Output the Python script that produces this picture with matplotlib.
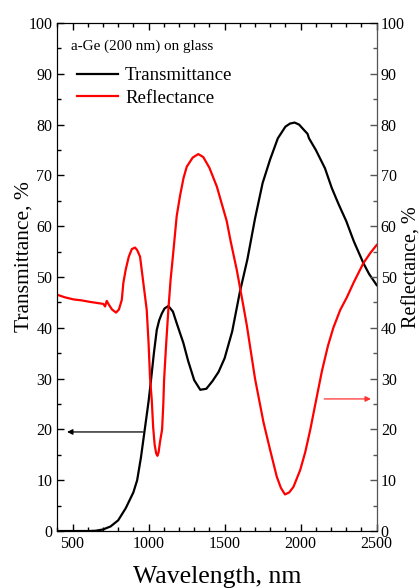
import matplotlib
matplotlib.use("Agg")
import matplotlib.pyplot as plt
from matplotlib.ticker import MultipleLocator
from matplotlib.lines import Line2D

plt.rcParams['font.family'] = ['Liberation Serif', 'DejaVu Serif']

# transmittance (black, left axis)
wl_T = [400, 500, 600, 650, 700, 750, 800, 850, 900, 925, 950, 975, 1000, 1016, 1035, 1054, 1070, 1087,
        1105, 1130, 1160, 1185, 1229, 1260, 1300, 1340, 1380, 1420, 1460, 1500, 1550, 1600, 1650, 1700,
        1750, 1800, 1850, 1900, 1930, 1960, 1990, 2020, 2045, 2055, 2100, 2160, 2205, 2250, 2300, 2350,
        2413, 2450, 2500]
T = [0, 0, 0, 0.05, 0.3, 0.9, 2.1, 4.5, 7.6, 10, 14.5, 20, 25.5, 29.7, 35, 39.6, 41.5, 42.8,
     43.8, 44.3, 43.2, 40.9, 37, 33.5, 29.7, 27.8, 28, 29.5, 31.3, 34, 39.3, 47, 53.5, 61.5,
     68.5, 73.2, 77.3, 79.6, 80.2, 80.4, 80, 79, 78.2, 77.3, 75, 71.4, 67.5, 64.3, 61, 57,
     52.7, 50.6, 48.4]

# reflectance (red, right axis)
wl_R = [400, 450, 505, 560, 615, 660, 703, 714, 725, 740, 760, 786, 805, 824, 834, 850, 870, 890, 911, 925,
        944, 965, 988, 1000, 1010, 1021, 1030, 1040, 1050, 1058, 1066, 1075, 1089, 1097, 1102, 1115, 1130,
        1145, 1163, 1185, 1207, 1230, 1251, 1290, 1327, 1360, 1400, 1449, 1514, 1540, 1580, 1624, 1646,
        1700, 1755, 1799, 1843, 1870, 1897, 1925, 1953, 1997, 2030, 2063, 2100, 2140, 2180, 2215, 2260,
        2304, 2350, 2412, 2460, 2500]
R = [46.5, 46, 45.6, 45.4, 45.1, 44.9, 44.7, 44.2, 45.3, 44.5, 43.6, 43, 43.6, 45.5, 48.8, 51.5, 54, 55.5, 55.8, 55.3,
     54, 49, 43.5, 37, 30, 25.8, 20.5, 17, 15.3, 14.8, 15.5, 17.5, 20, 25, 29.7, 36.5, 43.5,
     49.5, 55, 62, 66, 69.5, 71.7, 73.5, 74.2, 73.6, 71.5, 67.8, 61, 57, 51.4, 44.2, 40.5,
     30, 21.5, 16, 10.7, 8.5, 7.2, 7.6, 8.7, 12, 15.5, 19.9, 25.5, 31.5, 36.5, 40, 43.5,
     46, 49, 52.7, 54.8, 56.3]

fig = plt.figure(figsize=(4.19, 5.88), dpi=100)
ax = fig.add_axes([0.1368, 0.0969, 0.7622, 0.8640])
ax2 = ax.twinx()

ax.plot(wl_T, T, color='black', lw=1.6)
ax2.plot(wl_R, R, color='red', lw=1.6)

for a in (ax, ax2):
    a.set_xlim(400, 2500)
    a.set_ylim(0, 100)
    a.yaxis.set_major_locator(MultipleLocator(10))
    a.yaxis.set_minor_locator(MultipleLocator(5))
ax.xaxis.set_major_locator(MultipleLocator(500))
ax.xaxis.set_minor_locator(MultipleLocator(100))

ax.tick_params(which='both', direction='in', top=True, right=False, labelsize=11.5, width=1)
ax.tick_params(which='major', length=5)
ax.tick_params(which='minor', length=3)
ax2.tick_params(which='both', direction='in', labelsize=11.5, width=1, color='#555555', pad=3)
ax2.tick_params(which='major', length=5)
ax2.tick_params(which='minor', length=3)
ax2.spines['right'].set_color('#555555')

ax.set_xlabel('Wavelength, nm', fontsize=18.5, labelpad=10)
ax.set_ylabel('Transmittance, %', fontsize=15.5)
ax.yaxis.set_label_coords(-0.075, 0.54)
ax2.set_ylabel('Reflectance, %', fontsize=14.5)
ax2.yaxis.set_label_coords(1.08, 0.52)

ax.annotate('', xy=(464, 19.5), xytext=(964, 19.5),
            arrowprops=dict(arrowstyle='-|>', color='black', lw=0.9, mutation_scale=8,
                            shrinkA=0, shrinkB=0))
ax2.annotate('', xy=(2462, 26), xytext=(2155, 26),
             arrowprops=dict(arrowstyle='-|>', color='#ff3030', lw=0.9, mutation_scale=8,
                             shrinkA=0, shrinkB=0))

ax2.text(0.042, 0.955, 'a-Ge (200 nm) on glass', transform=ax.transAxes, fontsize=10.9, va='center')

handles = [Line2D([], [], color='black', lw=1.6), Line2D([], [], color='red', lw=1.6)]
ax2.legend(handles, ['Transmittance', 'Reflectance'], loc='upper left', bbox_to_anchor=(0.062, 0.913),
           frameon=False, fontsize=13.6, handlelength=2.17, handletextpad=0.37, labelspacing=0.27,
           borderpad=0, borderaxespad=0)

fig.savefig('out.png', dpi=100)
